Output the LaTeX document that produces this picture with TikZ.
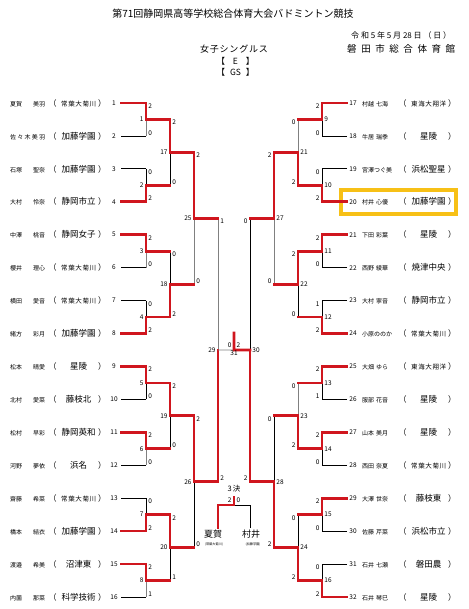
\documentclass[tikz,border=0pt]{standalone}
\usepackage{fontspec}
\setmainfont{Noto Sans CJK JP}
\usetikzlibrary{positioning}
\definecolor{winred}{RGB}{208,22,30}
\definecolor{markyellow}{RGB}{247,192,22}
\newcommand\tsz[1]{\fontsize{#1}{#1}\selectfont}
\newcommand\schL[1]{\tsz{8.5}#1}
\newcommand\schS[1]{\makebox[35pt][s]{\tsz{6.5}#1}}
\newcommand\kiku{\schS{常\hfil 葉\hfil 大\hfil 菊\hfil 川}}
\newcommand\shoyo{\schS{東\hfil 海\hfil 大\hfil 翔\hfil 洋}}
\newcommand\lname[1]{\makebox[35pt][s]{\tsz{6}\def\ngap{\hfill}\def\cgap{\hfil}#1}}
\newcommand\rname[1]{\makebox[33pt][l]{\tsz{6}\def\ngap{\hspace{2pt}}\def\cgap{}#1}}
\newcommand\entry[2]{#1\makebox[15pt]{\tsz{8}（}\makebox[37pt]{#2}\hspace{1pt}\makebox[9pt][l]{\tsz{8}）}}
\tikzset{
  win/.style={draw=winred, line width=2.8pt, line cap=rect},
  lose/.style={draw=black, line width=0.8pt},
  lostyle/.style={draw=\lc, line width=0.8pt},
  score/.style={font=\tsz{6.5}, inner sep=0.6pt},
  tL/.style={anchor=north west, xshift=1.6pt}, tR/.style={anchor=north east, xshift=-1.6pt},
  bL/.style={anchor=south west, xshift=1.6pt}, bR/.style={anchor=south east, xshift=-1.6pt},
  nL/.style={anchor=east, xshift=-1.6pt}, nR/.style={anchor=west, xshift=1.6pt},
  entrant/.style={anchor=west, inner sep=0pt},
  pnum/.style={font=\tsz{6.5}, inner sep=0pt},
  head/.style={inner sep=0pt}
}
\begin{document}
\begin{tikzpicture}[x=1pt,y=-1pt]
\useasboundingbox (0,0) rectangle (468,609);
\node[head, font=\tsz{10}] (title) at (233,14) {第71回静岡県高等学校総合体育大会バドミントン競技};
\node[head, anchor=west] (date) at (351,35) {\makebox[100pt][s]{\tsz{8}令\hfil 和\hfil 5\hfil 年\hfil 5\hfil 月\hfil 28\hfil 日\hfil （\hfil 日\hfil ）}};
\node[head, anchor=west] (hall) at (347,48.5) {\makebox[108pt][s]{\tsz{9.5}磐\hfil 田\hfil 市\hfil 総\hfil 合\hfil 体\hfil 育\hfil 館}};
\node[head] (event) at (234,49) {\makebox[68pt][s]{\tsz{9}女\hfil 子\hfil シ\hfil ン\hfil グ\hfil ル\hfil ス}};
\node[head] (grade) at (235.5,61) {\makebox[38pt][s]{\tsz{8.5}【\hfil E\hfil 】}};
\node[head] (pool) at (235.5,72.5) {\makebox[38pt][s]{\tsz{8.5}【\hfil GS\hfil 】}};
\draw[markyellow, line width=3.5pt] (341,190) rectangle (456,214);
\foreach \i/\nm/\sc in {1/{夏賀\ngap 美羽}/\kiku, 2/{佐\cgap 々\cgap 木\cgap 美\cgap 羽}/{\schL{加藤学園}},
  3/{石塚\ngap 聖奈}/{\schL{加藤学園}}, 4/{大村\ngap 怜奈}/{\schL{静岡市立}},
  5/{中澤\ngap 桃音}/{\schL{静岡女子}}, 6/{櫻井\ngap 理心}/\kiku,
  7/{横田\ngap 愛音}/\kiku, 8/{緒方\ngap 彩月}/{\schL{加藤学園}},
  9/{松本\ngap 晴愛}/{\schL{星陵}}, 10/{北村\ngap 愛菜}/{\schL{藤枝北}},
  11/{松村\ngap 早彩}/{\schL{静岡英和}}, 12/{河野\ngap 夢依}/{\schL{浜名}},
  13/{齋藤\ngap 希菜}/\kiku, 14/{橋本\ngap 結衣}/{\schL{加藤学園}},
  15/{渡邉\ngap 希美}/{\schL{沼津東}}, 16/{内薗\ngap 那菜}/{\schL{科学技術}}}{
  \pgfmathsetmacro\y{103+32.93*(\i-1)}
  \coordinate (p\i) at (121,\y);
  \node[pnum] (no\i) at (114,\y) {\i};
  \node[entrant] (pl\i) at (10,\y) {\entry{\lname{\nm}}{\sc}};
}
\foreach \i/\nm/\sc in {17/{村越\ngap 七海}/\shoyo, 18/{牛居\ngap 瑞季}/{\schL{星陵}},
  19/{宮\cgap 澤\cgap つ\cgap ぐ\cgap 美}/{\schL{浜松聖星}}, 20/{村井\ngap 心優}/{\schL{加藤学園}},
  21/{下田\ngap 彩葉}/{\schL{星陵}}, 22/{西野\ngap 綾華}/{\schL{焼津中央}},
  23/{大村\ngap 寧音}/{\schL{静岡市立}}, 24/{小\cgap 原\cgap の\cgap の\cgap か}/\kiku,
  25/{大畑\ngap ゆら}/\shoyo, 26/{服部\ngap 花音}/{\schL{星陵}},
  27/{山本\ngap 美月}/{\schL{星陵}}, 28/{西田\ngap 奈夏}/\kiku,
  29/{大澤\ngap 世奈}/{\schL{藤枝東}}, 30/{佐藤\ngap 芹菜}/{\schL{浜松市立}},
  31/{石井\ngap 七瀬}/{\schL{磐田農}}, 32/{石井\ngap 琴巳}/{\schL{星陵}}}{
  \pgfmathsetmacro\y{103+32.93*(\i-17)}
  \coordinate (p\i) at (347,\y);
  \node[pnum] (no\i) at (353,\y) {\i};
  \node[entrant] (pl\i) at (362,\y) {\entry{\rname{\nm}}{\sc}};
}
\foreach \n/\r/\j/\sd/\w/\st/\sb/\lc/\ct/\cb in {
  1/1/0/L/1/2/0/gray/p1/p2, 2/1/1/L/2/0/2/black/p3/p4, 3/1/2/L/1/2/0/gray/p5/p6,
  4/1/3/L/2/0/2/black/p7/p8, 5/1/4/L/1/2/0/black/p9/p10, 6/1/5/L/1/2/0/gray/p11/p12,
  7/1/6/L/2/0/2/black/p13/p14, 8/1/7/L/1/2/1/gray/p15/p16,
  9/1/0/R/1/2/0/black/p17/p18, 10/1/1/R/2/0/2/black/p19/p20, 11/1/2/R/1/2/0/black/p21/p22,
  12/1/3/R/2/1/2/black/p23/p24, 13/1/4/R/1/2/1/black/p25/p26, 14/1/5/R/1/2/0/black/p27/p28,
  15/1/6/R/1/2/0/black/p29/p30, 16/1/7/R/2/0/2/black/p31/p32,
  17/2/0/L/1/2/0/black/m1/m2, 18/2/1/L/2/0/2/black/m3/m4,
  19/2/2/L/1/2/0/black/m5/m6, 20/2/3/L/1/2/1/black/m7/m8,
  21/2/0/R/2/0/2/gray/m9/m10, 22/2/1/R/1/2/0/black/m11/m12,
  23/2/2/R/2/0/2/gray/m13/m14, 24/2/3/R/2/0/2/black/m15/m16,
  25/3/0/L/1/2/0/gray/m17/m18, 26/3/1/L/1/2/0/black/m19/m20,
  27/3/0/R/1/2/0/gray/m21/m22, 28/3/1/R/2/0/2/black/m23/m24,
  29/4/0/L/2/1/2/gray/m25/m26, 30/4/0/R/2/0/2/black/m27/m28}{
  \if L\sd \def\sg{1}\else \def\sg{-1}\fi
  \pgfmathsetmacro\x{234-(\sg)*(112-24*\r)}
  \pgfmathsetmacro\ym{103+32.93*(2^\r*\j+(2^\r-1)/2)}
  \pgfmathsetmacro\h{32.93*2^\r/4}
  \coordinate (m\n) at (\x,\ym);
  \coordinate (mt\n) at (\x,{\ym-\h});
  \coordinate (mb\n) at (\x,{\ym+\h});
  \ifnum\w=1 \def\wh{t}\def\lh{b}\let\wc\ct\let\lcn\cb
  \else \def\wh{b}\def\lh{t}\let\wc\cb\let\lcn\ct\fi
  \draw[lostyle] (m\lh\n) -- (m\n);
  \ifnum\r=1 \draw[lose] (\lcn) -- (m\lh\n);
  \else \draw[win] (\lcn) -- (m\lh\n);\fi
  \draw[win] (\wc) -- (m\wh\n) -- (m\n);
  \node[score, t\sd] (st\n) at (mt\n) {\st};
  \node[score, b\sd] (sb\n) at (mb\n) {\sb};
  \node[score, n\sd] (ln\n) at (m\n) {\n};
}
\coordinate (m31) at (234,350);
\coordinate (f31) at (234,333);
\draw[lose, gray] (m29) -- (m31);
\draw[win] (m30) -- (m31) -- (f31);
\node[score, anchor=east] (sa31) at (232.2,345) {0};
\node[score, anchor=west] (sc31) at (235.8,345) {2};
\node[score, anchor=north] (ln31) at (m31) {31};
\coordinate (m3rd) at (234,505);
\coordinate (f3rd) at (234,497);
\coordinate (c3l) at (218,505);
\coordinate (c3r) at (250,505);
\coordinate (d3l) at (218,528);
\coordinate (d3r) at (250,528);
\draw[lose] (d3r) -- (c3r) -- (m3rd);
\draw[win] (d3l) -- (c3l) -- (m3rd) -- (f3rd);
\node[score, font=\tsz{7.5}] (k3rd) at (234,489) {3\,決};
\node[score, anchor=east] (sa3rd) at (232.2,500.5) {2};
\node[score, anchor=west] (sc3rd) at (235.8,500.5) {0};
\node[head, font=\tsz{9}] (nm3l) at (213,534) {夏賀};
\node[head, font=\tsz{3.2}] (sch3l) at (214,544.5) {(常葉大菊川)};
\node[head, font=\tsz{9}] (nm3r) at (251,534) {村井};
\node[head, font=\tsz{3.2}] (sch3r) at (253,544.5) {(加藤学園)};
\end{tikzpicture}
\end{document}
